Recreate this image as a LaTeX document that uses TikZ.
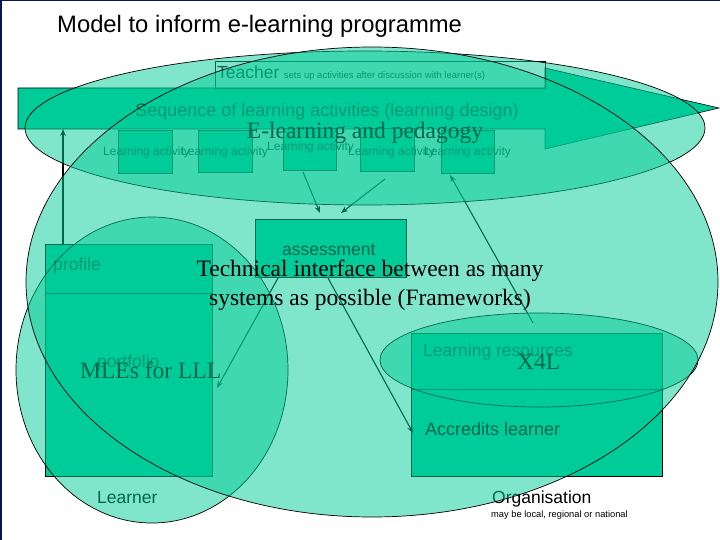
\documentclass[tikz,border=0pt]{standalone}
\usepackage{fontspec}
\setmainfont{Liberation Serif}
\setsansfont{Liberation Sans}
\usetikzlibrary{arrows.meta}
\definecolor{sea}{HTML}{00CC99}
\definecolor{navy}{HTML}{0B1650}
\newcommand\fsz[1]{\fontsize{#1}{#1}\selectfont}
\begin{document}
\begin{tikzpicture}[x=1pt,y=-1pt,
  sans/.style={inner sep=0pt, anchor=base west, font=\sffamily},
  serif/.style={inner sep=0pt, anchor=base west, font=\rmfamily},
  solidbox/.style={draw=black, fill=sea, line width=0.6pt},
  openbox/.style={draw=black, line width=0.5pt},
  halo/.style={draw=black, fill=sea, fill opacity=0.5, draw opacity=1, line width=0.7pt},
  conn/.style={draw=black, line width=1.1pt, -{Stealth[length=7pt,width=5.5pt]}}]
\useasboundingbox (0,0) rectangle (720,540);
\fill[white] (0,0) rectangle (720,540);
\fill[navy] (0,0) rectangle (1.5,540);
\fill[navy] (0,0) rectangle (720,1.5);

% title
\node[sans] (title) at (57,33) {\fsz{23.8}Model to inform e-learning programme};

% sequence arrow
\draw[solidbox] (18,88) -- (545,88) -- (545,68) -- (719,108) -- (545,149) -- (545,129) -- (18,129) -- cycle;
% teacher box
\draw[openbox] (215,61) rectangle (545,88);
% learning activity boxes
\draw[solidbox] (118,130) rectangle (172,173);
\draw[solidbox] (198,130) rectangle (252,172);
\draw[solidbox] (283,128) rectangle (336,170);
\draw[solidbox] (360,128) rectangle (414,171);
\draw[solidbox] (441,130) rectangle (494,173);
% assessment
\draw[solidbox] (255,219) rectangle (406,277);
% learner boxes
\draw[solidbox] (45,244) rectangle (212,293);
\draw[solidbox] (45,293) rectangle (212,476);
% organisation boxes
\draw[solidbox] (411,333) rectangle (662,389);
\draw[solidbox] (411,389) rectangle (662,476);

% texts under the halos
\node[sans] (teacher) at (217,79) {\fsz{17.5}Teacher\hspace{4.5pt}{\fsz{9.5}sets up activities after discussion with learner(s)}};
\node[sans, anchor=base] (seq) at (327,117) {\fsz{18}Sequence of learning activities (learning design)};
\node[sans] (la1) at (103,156) {\fsz{12}Learning activity};
\node[sans] (la2) at (181,156) {\fsz{12}Learning activity};
\node[sans] (la3) at (267,151) {\fsz{12}Learning activity};
\node[sans] (la4) at (348,156) {\fsz{12}Learning activity};
\node[sans] (la5) at (424,156) {\fsz{12}Learning activity};
\node[sans] (assess) at (282,255) {\fsz{17.5}assessment};
\node[sans] (profile) at (53,270) {\fsz{17.5}profile};
\node[sans] (portfolio) at (97,367) {\fsz{17.5}portfolio};
\node[sans] (lres) at (423,356) {\fsz{17.5}Learning resources};
\node[sans] (accr) at (425,435) {\fsz{18}Accredits learner};
\node[sans] (learner) at (97,503) {\fsz{17.5}Learner};
\node[sans] (org) at (492,503) {\fsz{17.5}Organisation};
\node[sans] (orgnote) at (491,517) {\fsz{9.3}may be local, regional or national};

% connectors
\coordinate (upS) at (63,244);
\coordinate (upE) at (63,129);
\coordinate (a1S) at (303,172);
\coordinate (a1E) at (320,213);
\coordinate (a2S) at (385,179);
\coordinate (a2E) at (341,213);
\coordinate (a3S) at (533,323);
\coordinate (a3E) at (450,175);
\coordinate (a4S) at (278,278);
\coordinate (a4E) at (217,388);
\coordinate (a5S) at (328,278);
\coordinate (a5E) at (413,433);
\draw[conn] (upS) -- (upE);
\draw[conn] (a1S) -- (a1E);
\draw[conn] (a2S) -- (a2E);
\draw[conn] (a3S) -- (a3E);
\draw[conn] (a4S) -- (a4E);
\draw[conn] (a5S) -- (a5E);

% halos
\draw[halo] (152,370) ellipse [x radius=136pt, y radius=153pt];
\node[serif] (mles) at (80,378) {\fsz{23.5}MLEs for LLL};
\draw[halo] (365,128) ellipse [x radius=340pt, y radius=77pt];
\node[serif, anchor=base] (elp) at (365,139) {\fsz{23.5}E-learning and pedagogy};
\draw[halo] (539,360) ellipse [x radius=159pt, y radius=47pt];
\node[serif] (x4l) at (517,369) {\fsz{23.5}X4L};
\draw[halo] (372,282) ellipse [x radius=346pt, y radius=235pt];
\node[serif, anchor=base, align=center, font=\rmfamily\fontsize{23.5}{29}\selectfont] (tech) at (370,305) {Technical interface between as many\\systems as possible (Frameworks)};
\end{tikzpicture}
\end{document}
